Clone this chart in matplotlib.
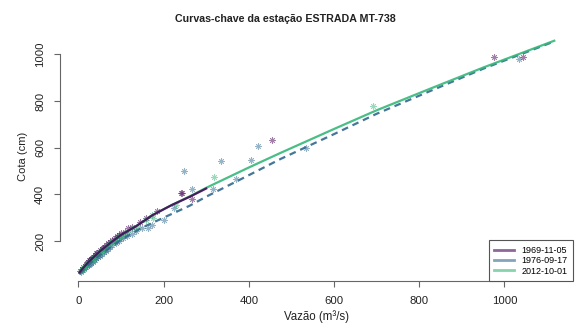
import numpy as np
import matplotlib
matplotlib.use("Agg")
import matplotlib.pyplot as plt
from matplotlib.lines import Line2D

plt.rcParams['font.family'] = ['Liberation Sans', 'DejaVu Sans']

# curvas-chave (vazao, cota)
q_1969 = [3, 10, 25, 50, 75, 100, 135, 175, 220, 262, 300]
h_1969 = [66, 82, 112, 155, 192, 226, 263, 312, 355, 390, 425]
q_1976 = [3, 25, 50, 100, 150, 200, 262, 300, 400, 475, 600, 700, 825, 950, 1117]
h_1976 = [60, 100, 140, 205, 258, 300, 352, 390, 482, 552, 658, 745, 842, 938, 1055]
q_2012 = [3, 10, 25, 50, 75, 100, 135, 175, 220, 262, 300, 400, 475, 600, 700, 825, 950, 1117]
h_2012 = [66, 82, 112, 155, 192, 226, 263, 312, 355, 392, 428, 515, 578, 680, 760, 852, 943, 1058]

# medicoes
pq_1969 = [5, 8, 12, 15, 18, 20, 22, 25, 28, 30, 33, 35, 38, 40, 42, 45, 50, 55, 58, 60,
           65, 70, 75, 80, 85, 90, 95, 100, 110, 117, 125, 145, 160, 185, 241, 243, 266,
           454, 976, 1043]
ph_1969 = [72, 80, 90, 95, 100, 104, 110, 118, 120, 125, 126, 132, 138, 142, 148, 150, 160,
           168, 170, 175, 182, 190, 198, 205, 212, 220, 228, 233, 240, 256, 262, 283, 300,
           330, 404, 407, 380, 633, 990, 987]
pq_1976 = [6, 10, 14, 17, 20, 24, 27, 30, 34, 36, 38, 42, 46, 48, 50, 55, 60, 62, 65, 70,
           75, 80, 85, 88, 95, 100, 105, 115, 125, 135, 150, 164, 172, 200, 225, 249, 267,
           317, 335, 370, 405, 421, 534, 1035]
ph_1976 = [68, 74, 82, 88, 92, 98, 102, 108, 112, 125, 118, 126, 130, 142, 138, 145, 152,
           165, 158, 168, 175, 182, 198, 190, 200, 215, 212, 222, 232, 245, 255, 257, 268,
           290, 341, 500, 423, 422, 543, 464, 547, 608, 600, 980]
pq_2012 = [5, 9, 13, 16, 19, 22, 26, 29, 32, 36, 40, 44, 48, 52, 56, 60, 65, 70, 75, 80,
           86, 92, 98, 105, 112, 120, 130, 140, 160, 172, 175, 230, 319, 691]
ph_2012 = [70, 78, 86, 92, 98, 104, 110, 116, 120, 128, 134, 140, 148, 154, 160, 166, 174,
           182, 190, 196, 204, 212, 220, 228, 236, 245, 255, 262, 290, 311, 300, 355, 476, 780]

datas = ['1969-11-05', '1976-09-17', '2012-10-01']
cores = ['#440154', '#31688E', '#35B779']

fig = plt.figure(figsize=(5.77, 3.34), dpi=100)
ax = fig.add_axes([60/577, 1-281/334, 513/577, 249.6/334])

star = (8, 2, 0)
ax.scatter(pq_1969, ph_1969, marker=star, s=17, color=cores[0], alpha=0.5, linewidths=0.6)
ax.scatter(pq_1976, ph_1976, marker=star, s=17, color=cores[1], alpha=0.5, linewidths=0.6)
ax.scatter(pq_2012, ph_2012, marker=star, s=17, color=cores[2], alpha=0.5, linewidths=0.6)

ax.plot(q_1976, h_1976, color=cores[1], lw=1.6, dashes=(3, 2.2), alpha=0.9)
ax.plot(q_2012, h_2012, color=cores[2], lw=1.6, alpha=0.9)
ax.plot(q_1969, h_1969, color=cores[0], lw=1.6, alpha=0.85)

ax.set_xlim(-43, 1161)
ax.set_ylim(29, 1098)
ax.set_xticks([0, 200, 400, 600, 800, 1000])
ax.set_yticks([200, 400, 600, 800, 1000])
for s in ['top', 'right']:
    ax.spines[s].set_visible(False)
ax.spines['left'].set_bounds(200, 1000)
ax.spines['bottom'].set_bounds(0, 1000)
for s in ['left', 'bottom']:
    ax.spines[s].set_color('#666666')
    ax.spines[s].set_linewidth(0.8)
ax.tick_params(length=4.3, width=0.8, color='#666666', pad=6.5, labelsize=8.2, labelcolor='#222222')
plt.setp(ax.get_yticklabels(), rotation=90, va='center')

ax.set_xlabel('Vazão (m³/s)', fontsize=8.3, color='#222222', labelpad=3)
ax.set_ylabel('Cota (cm)', fontsize=8, color='#222222', labelpad=5)
fig.text(0.495, 1-19/334, 'Curvas-chave da estação ESTRADA MT-738', ha='center', va='center',
         fontsize=7.7, fontweight='bold', color='#222222')

handles = [Line2D([], [], color=c, lw=2, alpha=0.6) for c in cores]
leg = ax.legend(handles, datas, loc='lower right', bbox_to_anchor=(1, 0), borderaxespad=0,
                fontsize=6.5, fancybox=False, framealpha=1, handlelength=2.2,
                labelspacing=0.15, borderpad=0.6, handletextpad=0.8)
leg.get_frame().set_edgecolor('#555555')
leg.get_frame().set_linewidth(0.8)

fig.savefig('out.png', dpi=100)
